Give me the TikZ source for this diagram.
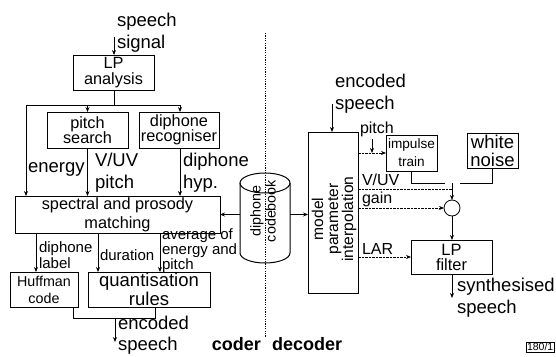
\documentclass[tikz,border=0pt]{standalone}
\usepackage{fontspec}
\setmainfont{Liberation Sans}
\usetikzlibrary{arrows.meta}
\begin{document}
\begin{tikzpicture}[x=1pt,y=-1pt,
  every node/.style={inner sep=0pt, outer sep=0pt},
  box/.style={draw, line width=1pt, align=center},
  big/.style={font=\fontsize{18.5}{22}\selectfont},
  mid/.style={font=\fontsize{16.3}{15.5}\selectfont},
  sig/.style={font=\fontsize{16}{16}\selectfont},
  lbl/.style={align=left, anchor=west},
  line/.style={line width=0.8pt},
  wire/.style={line width=0.8pt, -{Stealth[length=5pt,width=4pt]}},
  param/.style={wire, dash pattern=on 2.5pt off 1pt},
]
\useasboundingbox[fill=white] (0,0) rectangle (556,356);

% ---------------- coder ----------------
\node[box, mid, minimum width=81, minimum height=35] (lpa) at (113.5,72.5) {LP\\analysis};
\node[box, mid, minimum width=81, minimum height=36] (pitch) at (87.5,130) {pitch\\search};
\node[box, mid, minimum width=80, minimum height=36] (drec) at (179,130) {diphone\\recogniser};
\node[box, font=\fontsize{16.3}{19}\selectfont, minimum width=205, minimum height=37] (spm) at (117.5,214.5) {spectral and prosody\\matching};
\node[box, font=\fontsize{14.3}{17}\selectfont, minimum width=68, minimum height=35] (huff) at (44,289.5) {Huffman\\code};
\node[box, font=\fontsize{18.5}{16.5}\selectfont, minimum width=122, minimum height=35] (quant) at (149,289.5) {quantisation\\rules};

% input speech
\coordinate (sin) at (114,37);
\node[big, lbl] (lsig) at (117,33) {speech\\signal};
\draw[wire] (sin) -- (sin |- lpa.north);

% distribution bus below the LP analysis
\coordinate (split) at (114,105);
\coordinate (splL) at (26,105);
\coordinate (splR) at (180,105);
\draw[line] (split |- lpa.south) -- (split);
\draw[line] (splL) -- (splR);
\draw[wire] (splL) -- (splL |- spm.north);
\draw[wire] (pitch.north |- splL) -- (pitch.north);
\draw[wire] (splR) -- (splR |- drec.north);
\draw[wire] (pitch.south) -- (pitch.south |- spm.north);
\draw[wire] (splR |- drec.south) -- (splR |- spm.north);

\node[big, lbl] (lenergy) at (28,169) {energy};
\node[big, lbl] (lvuv) at (95,173) {V/UV\\pitch};
\node[big, lbl] (lhyp) at (183,173) {diphone\\hyp.};

% outputs of the matching stage
\coordinate (cdl) at (36,250);
\coordinate (cdu) at (98,250);
\coordinate (cav) at (160,250);
\draw[wire] (cdl |- spm.south) -- (cdl |- huff.north);
\draw[wire] (cdu |- spm.south) -- (cdu |- quant.north);
\draw[wire] (cav |- spm.south) -- (cav |- quant.north);
\node[lbl, font=\fontsize{15}{16}\selectfont] (ldl) at (39,255) {diphone\\label};
\node[lbl, font=\fontsize{15}{15}\selectfont] (ldu) at (100,255) {duration};
\node[lbl, font=\fontsize{15}{11.8}\selectfont] (lav) at (162,251) {average of\\energy and\\pitch};

% merged bit stream
\coordinate (hx) at (73,318);
\coordinate (qx) at (155,318);
\coordinate (mrg) at (115,318);
\coordinate (cout) at (115,342);
\draw[line] (hx |- huff.south) -- (hx) -- (qx) -- (qx |- quant.south);
\draw[wire] (mrg) -- (cout);
\node[big, lbl, font=\fontsize{18.5}{21}\selectfont] (lenc) at (118,335) {encoded\\speech};

% ---------------- codebook ----------------
\node[minimum width=50, minimum height=90] (cb) at (265,218) {};
\draw[line width=1pt, fill=white] (240,183) -- (240,253) arc[start angle=180, end angle=0, x radius=25, y radius=10] -- (290,183);
\draw[line width=1pt] (265,183) ellipse[x radius=25, y radius=10];
\node[rotate=90, align=center, font=\fontsize{14.3}{15}\selectfont] (cbt) at (263,211) {diphone\\codebook};

% coder / decoder divider
\draw[line width=0.8pt, dash pattern=on 1.2pt off 1.2pt] (265,33) -- (265,337);
\node[font=\fontsize{18}{18}\selectfont\bfseries, anchor=east] (lcoder) at (261,344) {coder};
\node[font=\fontsize{18}{18}\selectfont\bfseries, anchor=west] (ldecoder) at (272,344) {decoder};

% ---------------- decoder ----------------
\node[box, minimum width=50, minimum height=161] (model) at (333,212.5) {};
\node[rotate=90, align=center, font=\fontsize{15.6}{15}\selectfont] (modelt) at (334,219) {model\\parameter\\interpolation};
\node[box, font=\fontsize{13.6}{18}\selectfont, minimum width=51, minimum height=36] (imp) at (411.5,153) {impulse\\train};
\node[box, font=\fontsize{18.5}{17.5}\selectfont, minimum width=51, minimum height=35] (wn) at (492.5,151) {white\\noise};
\node[draw, circle, line width=0.8pt, minimum size=16] (sum) at (452,208) {};
\node[box, font=\fontsize{16.4}{15}\selectfont, minimum width=81, minimum height=34] (lpf) at (451.5,257) {LP\\filter};

% codebook feeds both halves
\draw[wire] (cb.west |- spm.east) -- (spm.east);
\draw[wire] (cb.east |- spm.east) -- (model.west |- spm.east);

\coordinate (ein) at (332,104);
\node[big, lbl] (lenc2) at (335,94) {encoded\\speech};
\draw[wire] (ein) -- (ein |- model.north);

% pitch
\coordinate (pmark) at (372,139);
\draw[param] (model.east |- imp.west) -- (imp.west);
\draw[wire] (pmark) -- (pmark |- imp.west);
\node[sig, lbl] (lpitch) at (360,129) {pitch};

% excitation switch
\coordinate (sw) at (452,183);
\coordinate (swL) at (445,183);
\coordinate (swR) at (460,183);
\coordinate (vuv) at (452,189);
\draw[line] (imp.south) -- (imp.south |- swL) -- (swL);
\draw[line] (wn.south) -- (wn.south |- swR) -- (swR);
\draw[line, dash pattern=on 2.5pt off 1pt] (model.east |- vuv) -- (vuv);
\draw[wire] (sw) -- (sum.north);
\node[sig, lbl] (lvuv2) at (362,180) {V/UV};

% gain
\draw[param] (model.east |- sum.west) -- (sum.west);
\node[sig, lbl] (lgain) at (362,199) {gain};

% LAR coefficients
\draw[param] (model.east |- lpf.west) -- (lpf.west);
\node[sig, lbl] (llar) at (362,249) {LAR};

\draw[wire] (sum.south) -- (sum.south |- lpf.north);
\coordinate (sout) at (452,298);
\draw[wire] (sout |- lpf.south) -- (sout);
\node[big, lbl] (lsyn) at (457,298) {synthesised\\speech};

\node[draw, line width=0.6pt, font=\fontsize{10.5}{10.5}\selectfont, inner sep=1pt, anchor=west] (tag) at (526,347) {180/1};
\end{tikzpicture}
\end{document}
